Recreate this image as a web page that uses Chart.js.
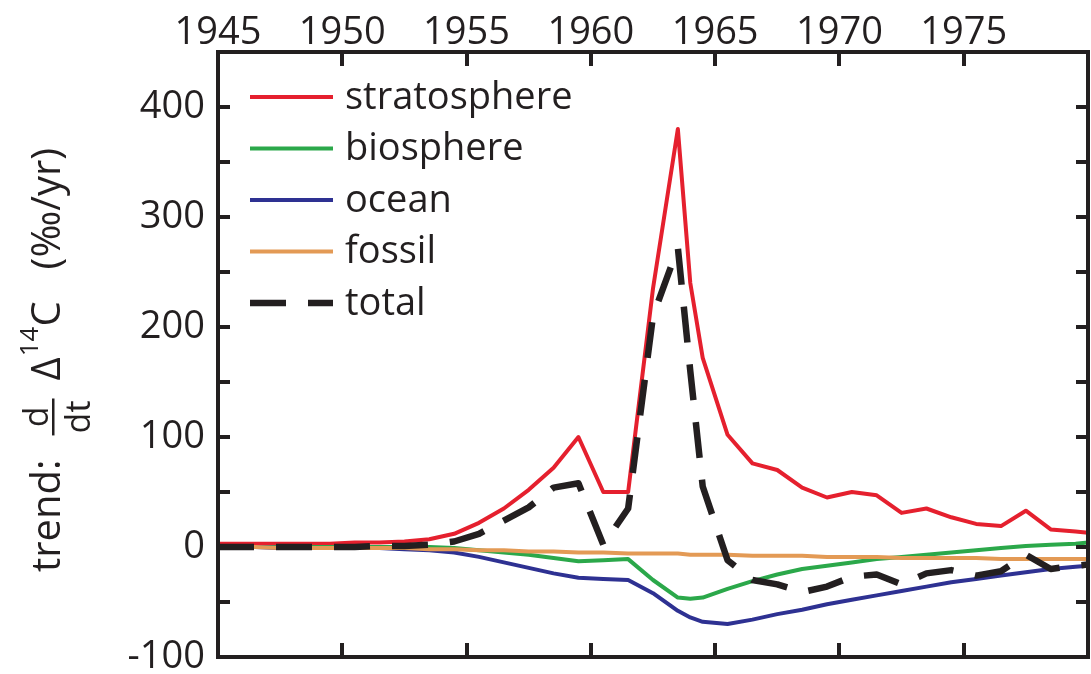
<!DOCTYPE html>
<html>
<head>
<meta charset="utf-8">
<script src="https://cdn.jsdelivr.net/npm/chart.js@4.4.0/dist/chart.umd.min.js"></script>
<style>
  html, body { margin: 0; padding: 0; background: #fff; }
  canvas { display: block; }
</style>
</head>
<body>
<canvas id="trendChart" width="1091" height="674"></canvas>
<script>
// Mid-year sample times (plus the range ends), shared by every series
const years = [1945, 1945.5, 1946.5, 1947.5, 1948.5, 1949.5, 1950.5, 1951.5, 1952.5,
  1953.5, 1954.5, 1955.5, 1956.5, 1957.5, 1958.5, 1959.5, 1960.5, 1961.5, 1962.5, 1963.5,
  1964, 1964.5, 1965.5, 1966.5, 1967.5, 1968.5, 1969.5, 1970.5, 1971.5, 1972.5, 1973.5,
  1974.5, 1975.5, 1976.5, 1977.5, 1978.5, 1979.5, 1980];

// d/dt Δ14C contributions (‰/yr)
const stratosphere = [3, 3, 3, 3, 3, 3, 4, 4, 5,
  7, 12, 22, 35, 52, 72, 100, 50, 50, 235, 380,
  240, 172, 102, 76, 70, 54, 45, 50, 47, 31, 35,
  27, 21, 19, 33, 16, 14, 13];
const biosphere = [0, 0, 0, 0, 0, 0, 0, 0, 0,
  0, -1, -3, -5, -7, -10, -13, -12, -11, -30, -46,
  -47, -46, -38, -31, -25, -20, -17, -14, -11, -9, -7,
  -5, -3, -1, 1, 2, 3, 4];
const ocean = [0, 0, 0, -1, -1, -1, -1, -1, -2,
  -3, -5, -9, -14, -19, -24, -28, -29, -30, -42, -58,
  -64, -68, -70, -66, -61, -57, -52, -48, -44, -40, -36,
  -32, -29, -26, -23, -20, -18, -17];
const fossil = [0, 0, 0, -1, -1, -1, -1, -1, -1,
  -2, -2, -3, -3, -4, -4, -5, -5, -6, -6, -6,
  -7, -7, -7, -8, -8, -8, -9, -9, -9, -10, -10,
  -10, -10, -11, -11, -11, -11, -11];
const total = [0, 0, 0, 0, 0, 0, 0, 1, 1,
  2, 5, 12, 24, 36, 54, 58, 2, 35, 210, 272,
  160, 55, -12, -30, -34, -41, -36, -27, -25, -34, -24,
  -21, -26, -22, -7, -20, -17, -16];

const xTicks = [1945, 1950, 1955, 1960, 1965, 1970, 1975];
const yTicks = [-100, 0, 100, 200, 300, 400];

const INK = '#231F20';
const FONT = "'Open Sans', 'Noto Sans', sans-serif";

Chart.defaults.font.family = FONT;
Chart.defaults.color = INK;

const pts = arr => years.map((x, i) => ({ x, y: arr[i] }));

function series(label, arr, color, extra) {
  return Object.assign({
    label,
    data: pts(arr),
    borderColor: color,
    backgroundColor: color,
    borderWidth: 4,
    pointRadius: 0,
    tension: 0,
    fill: false,
    borderJoinStyle: 'round'
  }, extra || {});
}

// frame box + inward tick marks on all four sides
const framePlugin = {
  id: 'frame',
  afterDatasetsDraw(chart) {
    const { ctx, chartArea: a, scales: { x, y } } = chart;
    ctx.save();
    ctx.strokeStyle = INK;
    ctx.lineWidth = 4;
    ctx.lineCap = 'butt';
    ctx.beginPath();
    xTicks.concat([1980]).forEach(v => {
      if (v <= x.min || v >= x.max) return;
      const px = Math.round(x.getPixelForValue(v));
      ctx.moveTo(px, a.top); ctx.lineTo(px, a.top + 14);
      ctx.moveTo(px, a.bottom); ctx.lineTo(px, a.bottom - 14);
    });
    y.ticks.forEach(t => {
      if (t.value <= y.min || t.value >= y.max) return;
      const py = Math.round(y.getPixelForValue(t.value));
      ctx.moveTo(a.left, py); ctx.lineTo(a.left + 12, py);
      ctx.moveTo(a.right, py); ctx.lineTo(a.right - 12, py);
    });
    ctx.stroke();
    ctx.strokeRect(a.left, a.top, a.right - a.left, a.bottom - a.top);
    ctx.restore();
  }
};

// legend inside the plot, upper left
const legendPlugin = {
  id: 'insideLegend',
  afterDraw(chart) {
    const { ctx } = chart;
    const x0 = 250, x1 = 333, top = 97, step = 51.5;
    ctx.save();
    chart.data.datasets.forEach((ds, i) => {
      const yy = top + i * step;
      ctx.beginPath();
      ctx.strokeStyle = ds.borderColor;
      ctx.lineWidth = ds.borderWidth;
      ctx.setLineDash(ds.borderDash || []);
      ctx.moveTo(x0, yy);
      ctx.lineTo(x1, yy);
      ctx.stroke();
      ctx.setLineDash([]);
      ctx.fillStyle = INK;
      ctx.font = `38px ${FONT}`;
      ctx.textBaseline = 'middle';
      ctx.textAlign = 'left';
      ctx.fillText(ds.label, 345, yy + 1);
    });
    ctx.restore();
  }
};

// rotated y title: trend: d/dt Δ14C (‰/yr), read bottom to top
const yTitlePlugin = {
  id: 'yTitle',
  afterDraw(chart) {
    const { ctx } = chart;
    const big = `40px ${FONT}`, frac = `34px ${FONT}`, sup = `26px ${FONT}`;
    const w = (txt, f) => { ctx.font = f; return ctx.measureText(txt).width; };

    ctx.save();
    ctx.fillStyle = INK;
    ctx.textBaseline = 'alphabetic';
    ctx.textAlign = 'left';
    ctx.translate(60, 572);
    ctx.rotate(-Math.PI / 2);

    let cx = 0;
    ctx.font = big; ctx.fillText('trend:', cx, 0);
    cx += w('trend:', big) + 24;

    // fraction d over dt
    const fracW = w('dt', frac) + 4;
    ctx.font = frac;
    ctx.fillText('d', cx + (fracW - w('d', frac)) / 2, -12);
    ctx.fillText('dt', cx + 2, 30);
    ctx.fillRect(cx, -8, fracW, 2.5);
    cx += fracW + 18;

    ctx.font = big; ctx.fillText('\u0394', cx, 0); cx += w('\u0394', big) + 1;
    ctx.font = sup; ctx.fillText('14', cx, -22); cx += w('14', sup);
    ctx.font = big; ctx.fillText('C', cx, 0); cx += w('C', big) + 32;
    ctx.fillText('(\u2030/yr)', cx, 0);
    ctx.restore();
  }
};

// keep the axis label overhang from shrinking the plot box
const noOverhang = s => { s.paddingTop = 0; s.paddingBottom = 0; s.paddingLeft = 0; s.paddingRight = 0; };

new Chart(document.getElementById('trendChart'), {
  type: 'line',
  data: {
    datasets: [
      series('stratosphere', stratosphere, '#E5202E', { order: 4 }),
      series('biosphere', biosphere, '#2BA84A', { order: 3 }),
      series('ocean', ocean, '#2E3192', { order: 2 }),
      series('fossil', fossil, '#E39A55', { order: 1 }),
      series('total', total, INK, { order: 0, borderWidth: 6.5, borderDash: [36, 22], borderCapStyle: 'butt' })
    ]
  },
  options: {
    responsive: false,
    animation: false,
    devicePixelRatio: 1,
    layout: { padding: { left: 0, right: 3, top: 0, bottom: 17 } },
    plugins: { legend: { display: false }, tooltip: { enabled: false } },
    scales: {
      x: {
        type: 'linear',
        position: 'top',
        min: 1945,
        max: 1980,
        afterBuildTicks: s => { s.ticks = xTicks.map(v => ({ value: v })).concat([{ value: 1980 }]); },
        ticks: {
          font: { size: 38 },
          color: INK,
          padding: -4,
          maxRotation: 0,
          autoSkip: false,
          callback: v => (xTicks.includes(v) ? String(v) : '')
        },
        grid: { display: false, drawTicks: false },
        border: { display: false },
        afterFit: s => { s.height = 52; noOverhang(s); }
      },
      y: {
        type: 'linear',
        min: -100,
        max: 450,
        ticks: {
          stepSize: 50,
          font: { size: 38 },
          color: INK,
          padding: 13,
          callback: v => (yTicks.includes(v) ? String(v) : '')
        },
        grid: { display: false, drawTicks: false },
        border: { display: false },
        afterFit: s => { s.width = 218; noOverhang(s); }
      }
    }
  },
  plugins: [framePlugin, legendPlugin, yTitlePlugin]
});
</script>
</body>
</html>
